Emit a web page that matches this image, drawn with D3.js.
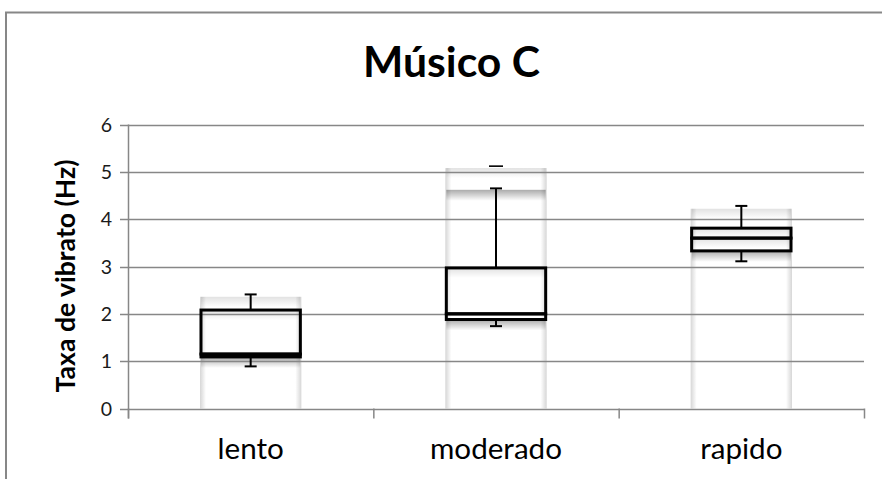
<!DOCTYPE html>
<html><head><meta charset="utf-8">
<script src="https://cdn.jsdelivr.net/npm/d3@7"></script>
<style>html,body{margin:0;padding:0;background:#fff;}svg{display:block;}</style>
</head><body>
<svg id="chart" width="882" height="479"></svg>
<script>
// ---- data ----
const categories = ["lento", "moderado", "rapido"];
const whiskerLow  = [0.89, 1.74, 3.11];
const q1          = [1.09, 1.88, 3.33];
const median      = [1.15, 2.00, 3.60];
const q3          = [2.08, 2.97, 3.81];
const whiskerHigh = [2.41, 4.65, 4.28];
const extraCap    = [null, 5.12, null];
const columnTop   = [2.36, 5.08, 4.22];
const strongShade = [[1.09], [4.62, 1.88], [3.33]];
const lightShade  = [[2.36, 2.08], [5.08, 2.97], [4.22, 3.81, 3.60]];
const yTicks = [0, 1, 2, 3, 4, 5, 6];
const chartTitle = "Músico C";
const yTitle = "Taxa de vibrato (Hz)";

(function () {
// ---- layout ----
const svg = d3.select("#chart");
const pLeft = 128, pRight = 864, pTop = 124.5, pBottom = 408.5;
const grid = "#878787";
const x = d3.scaleBand().domain(categories).range([pLeft, pRight]).padding(0);
const y = d3.scaleLinear().domain([0, 6]).range([pBottom, pTop]);
const barW = x.bandwidth() * 0.405;
const cx = c => x(c) + x.bandwidth() / 2;

// frame
svg.append("path").attr("d", "M6,490 V12.5 H890").attr("fill", "none")
  .attr("stroke", grid).attr("stroke-width", 2);

const defs = svg.append("defs");
const gDown = defs.append("linearGradient").attr("id", "shadeDown").attr("x1", 0).attr("x2", 0).attr("y1", 0).attr("y2", 1);
gDown.append("stop").attr("offset", 0).attr("stop-color", "#000").attr("stop-opacity", 0.33);
gDown.append("stop").attr("offset", 1).attr("stop-color", "#000").attr("stop-opacity", 0);
const gL = defs.append("linearGradient").attr("id", "sideL").attr("x1", 0).attr("x2", 1).attr("y1", 0).attr("y2", 0);
gL.append("stop").attr("offset", 0).attr("stop-color", "#000").attr("stop-opacity", 0.16);
gL.append("stop").attr("offset", 1).attr("stop-color", "#000").attr("stop-opacity", 0);
const gR = defs.append("linearGradient").attr("id", "sideR").attr("x1", 1).attr("x2", 0).attr("y1", 0).attr("y2", 0);
gR.append("stop").attr("offset", 0).attr("stop-color", "#000").attr("stop-opacity", 0.16);
gR.append("stop").attr("offset", 1).attr("stop-color", "#000").attr("stop-opacity", 0);

// column shading
categories.forEach((c, i) => {
  const x0 = cx(c) - barW / 2;
  const g = svg.append("g");
  g.append("rect").attr("x", x0 - 1).attr("y", y(columnTop[i])).attr("width", 6)
    .attr("height", y(0) - y(columnTop[i])).attr("fill", "url(#sideL)");
  g.append("rect").attr("x", x0 + barW - 5).attr("y", y(columnTop[i])).attr("width", 6)
    .attr("height", y(0) - y(columnTop[i])).attr("fill", "url(#sideR)");
  strongShade[i].forEach(v => {
    g.append("rect").attr("x", x0).attr("y", y(v)).attr("width", barW).attr("height", 11)
      .attr("fill", "url(#shadeDown)");
  });
  lightShade[i].forEach(v => {
    g.append("rect").attr("x", x0).attr("y", y(v)).attr("width", barW).attr("height", 10)
      .attr("fill", "url(#shadeDown)").attr("opacity", 0.35);
  });
});

// gridlines
svg.append("g").selectAll("line").data(yTicks).join("line")
  .attr("x1", pLeft - 8).attr("x2", pRight).attr("y1", d => Math.round(y(d)) + 0.5).attr("y2", d => Math.round(y(d)) + 0.5)
  .attr("stroke", grid).attr("stroke-width", 1.3);
// y axis line
svg.append("line").attr("x1", pLeft + 0.5).attr("x2", pLeft + 0.5).attr("y1", pTop).attr("y2", pBottom + 10)
  .attr("stroke", grid).attr("stroke-width", 1.5);
// category boundary ticks
const bounds = categories.map(c => x(c)).concat([pRight]);
svg.append("g").selectAll("line").data(bounds).join("line")
  .attr("x1", d => d + 0.5).attr("x2", d => d + 0.5).attr("y1", pBottom).attr("y2", pBottom + 10)
  .attr("stroke", grid).attr("stroke-width", 1.5);

// y tick labels
svg.append("g").selectAll("text").data(yTicks).join("text")
  .attr("x", 112).attr("y", d => y(d)).attr("dy", "0.36em").attr("text-anchor", "end")
  .attr("font-family", "Lato, sans-serif").attr("font-size", "19.5px").attr("fill", "#1a1a1a")
  .text(d => d);

// boxes & whiskers
categories.forEach((c, i) => {
  const mid = cx(c), x0 = mid - barW / 2;
  const g = svg.append("g").attr("stroke", "#000").attr("fill", "none");
  g.append("line").attr("x1", mid).attr("x2", mid).attr("y1", y(q3[i])).attr("y2", y(whiskerHigh[i])).attr("stroke-width", 2);
  g.append("line").attr("x1", mid - 6).attr("x2", mid + 6).attr("y1", y(whiskerHigh[i])).attr("y2", y(whiskerHigh[i])).attr("stroke-width", 2);
  g.append("line").attr("x1", mid).attr("x2", mid).attr("y1", y(q1[i])).attr("y2", y(whiskerLow[i])).attr("stroke-width", 2);
  g.append("line").attr("x1", mid - 6).attr("x2", mid + 6).attr("y1", y(whiskerLow[i])).attr("y2", y(whiskerLow[i])).attr("stroke-width", 2);
  if (extraCap[i] != null) {
    g.append("line").attr("x1", mid - 7).attr("x2", mid + 7).attr("y1", y(extraCap[i])).attr("y2", y(extraCap[i])).attr("stroke-width", 1.6);
  }
  g.append("rect").attr("x", x0).attr("y", y(median[i])).attr("width", barW)
    .attr("height", y(q1[i]) - y(median[i])).attr("stroke-width", 3);
  g.append("rect").attr("x", x0).attr("y", y(q3[i])).attr("width", barW)
    .attr("height", y(median[i]) - y(q3[i])).attr("stroke-width", 3);
});

function fitWidth(sel, target, base) {
  sel.style("font-size", base + "px");
  const w = sel.node().getComputedTextLength();
  const s = base * target / w;
  sel.style("font-size", s + "px");
  return s;
}

const t = svg.append("text").attr("x", 451.5).attr("y", 77).attr("text-anchor", "middle")
  .attr("font-family", "Lato, sans-serif").attr("font-weight", "bold").attr("fill", "#000").text(chartTitle);
fitWidth(t, 177, 40);

const yt = svg.append("text").attr("transform", "translate(75,276) rotate(-90)").attr("text-anchor", "middle")
  .attr("font-family", "Lato, sans-serif").attr("font-weight", "bold").attr("fill", "#000").text(yTitle);
fitWidth(yt, 233, 22);

const cl = svg.append("g").selectAll("text").data(categories).join("text")
  .attr("x", d => cx(d)).attr("y", 459).attr("text-anchor", "middle")
  .attr("font-family", "Lato, sans-serif").attr("fill", "#000").text(d => d);
const mod = cl.filter(d => d === "moderado");
const size = fitWidth(mod, 132, 28);
cl.style("font-size", size + "px");
})();
</script>
</body></html>
